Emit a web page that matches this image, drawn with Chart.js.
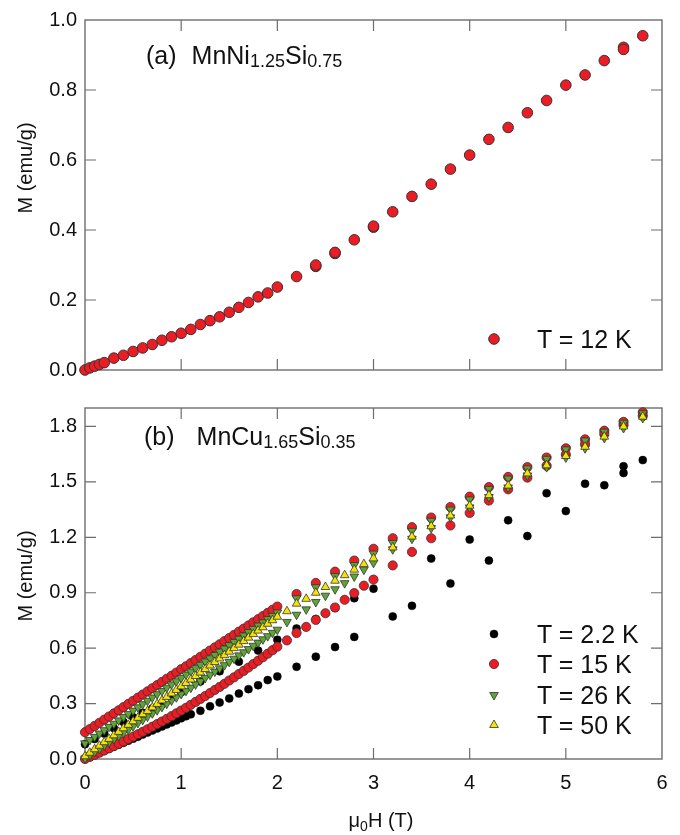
<!DOCTYPE html>
<html>
<head>
<meta charset="utf-8">
<script src="https://cdn.jsdelivr.net/npm/chart.js@4.4.1/dist/chart.umd.min.js"></script>
<style>
  body { margin: 0; background: #fff; font-family: "Liberation Sans", Arial, sans-serif; color: #111; }
  #wrap { position: relative; width: 680px; height: 835px; overflow: hidden; }
  canvas { position: absolute; left: 0; }
  #topChart { top: 0; }
  #botChart { top: 388px; }
  .lbl { position: absolute; white-space: nowrap; }
  .panel { font-size: 25px; line-height: 25px; }
  .panel sub { font-size: 18px; vertical-align: baseline; position: relative; top: 3px; }
  .panel .f { margin-left: 15px; }
  .leg { font-size: 25px; line-height: 25px; left: 537px; }
  .ytitle { font-size: 20px; line-height: 20px; transform: translate(-50%, -50%) rotate(-90deg); }
  .xtitle { font-size: 20px; line-height: 20px; transform: translateX(-50%); }
  .xtitle sub { font-size: 14px; vertical-align: baseline; position: relative; top: 4px; }
</style>
</head>
<body>
<div id="wrap">
  <canvas id="topChart" width="680" height="390"></canvas>
  <canvas id="botChart" width="680" height="447"></canvas>

  <div class="lbl panel" style="left:146px; top:43px;">(a)<span class="f">MnNi<sub>1.25</sub>Si<sub>0.75</sub></span></div>
  <div class="lbl panel" style="left:144px; top:424px;">(b)<span class="f" style="margin-left:22px;">MnCu<sub>1.65</sub>Si<sub>0.35</sub></span></div>

  <div class="lbl leg" style="top:327px;">T = 12 K</div>
  <div class="lbl leg" style="top:622px;">T = 2.2 K</div>
  <div class="lbl leg" style="top:652px;">T = 15 K</div>
  <div class="lbl leg" style="top:683px;">T = 26 K</div>
  <div class="lbl leg" style="top:713px;">T = 50 K</div>

  <div class="lbl ytitle" style="left:25px; top:168px;">M (emu/g)</div>
  <div class="lbl ytitle" style="left:25px; top:576px;">M (emu/g)</div>
  <div class="lbl xtitle" style="left:381px; top:810px;">μ<sub>0</sub>H (T)</div>
</div>

<script>
// ---- AXES ----
const xTicks = [0, 1, 2, 3, 4, 5, 6];
const yTicksTop = [0, 0.2, 0.4, 0.6, 0.8, 1.0];
const yTicksBot = [0, 0.3, 0.6, 0.9, 1.2, 1.5, 1.8];

// ---- PANEL (a): MnNi1.25Si0.75, T = 12 K ----
const hA = [0, 0.05, 0.1, 0.15, 0.2, 0.3, 0.4, 0.5, 0.6, 0.7, 0.8, 0.9, 1.0, 1.1, 1.2, 1.3, 1.4, 1.5, 1.6, 1.7, 1.8, 1.9, 2.0,
            2.2, 2.4, 2.6, 2.8, 3.0, 3.2, 3.4, 3.6, 3.8, 4.0, 4.2, 4.4, 4.6, 4.8, 5.0, 5.2, 5.4, 5.6, 5.8];
const mA = [0, 0.006, 0.011, 0.016, 0.021, 0.034, 0.042, 0.053, 0.063, 0.073, 0.085, 0.095, 0.105, 0.116, 0.130, 0.141, 0.152, 0.165, 0.179, 0.193, 0.209, 0.220, 0.237,
            0.267, 0.300, 0.336, 0.372, 0.411, 0.452, 0.496, 0.531, 0.574, 0.614, 0.659, 0.693, 0.735, 0.770, 0.814, 0.843, 0.884, 0.916, 0.955];
// return sweep, almost on top of the first one
const hAret = [2.4, 2.6, 3.0, 5.6];
const mAret = [0.296, 0.333, 0.408, 0.922];

// ---- PANEL (b): MnCu1.65Si0.35 ----
const hLow = [0, 0.05, 0.1, 0.15, 0.2, 0.25, 0.3, 0.35, 0.4, 0.45, 0.5, 0.55, 0.6, 0.65, 0.7, 0.75, 0.8, 0.85, 0.9, 0.95,
              1.0, 1.05, 1.1, 1.15, 1.2, 1.25, 1.3, 1.35, 1.4, 1.45, 1.5, 1.55, 1.6, 1.65, 1.7, 1.75, 1.8, 1.85, 1.9, 1.95, 2.0];
const hMid = [2.1, 2.2, 2.3, 2.4, 2.5, 2.6, 2.7, 2.8, 2.9, 3.0];
const hHigh = [2.2, 2.4, 2.6, 2.8, 3.0, 3.2, 3.4, 3.6, 3.8, 4.0, 4.2, 4.4, 4.6, 4.8, 5.0, 5.2, 5.4, 5.6, 5.8];
const hHighUp = [3.2, 3.4, 3.6, 3.8, 4.0, 4.2, 4.4, 4.6, 4.8, 5.0, 5.2, 5.4, 5.6, 5.8];

// T = 2.2 K
const h2Down = [0, 0.1, 0.2, 0.3, 0.4, 0.5, 0.6, 0.7, 0.8, 0.9, 1.0, 1.2, 1.4, 1.6, 1.8, 2.0,
                2.2, 2.4, 2.6, 2.8, 3.0, 3.6, 4.0, 4.4, 4.8, 5.2, 5.6, 5.8];
const m2Down = [0.080, 0.108, 0.138, 0.167, 0.200, 0.226, 0.250, 0.274, 0.297, 0.335, 0.361, 0.420, 0.475, 0.527, 0.587, 0.646,
                0.706, 0.758, 0.818, 0.870, 0.922, 1.085, 1.188, 1.292, 1.439, 1.490, 1.585, 1.618];
const h2Up = [0, 0.05, 0.1, 0.15, 0.2, 0.25, 0.3, 0.35, 0.4, 0.45, 0.5, 0.55, 0.6, 0.65, 0.7, 0.75, 0.8, 0.85, 0.9, 0.95, 1.0, 1.05, 1.1,
              1.2, 1.3, 1.4, 1.5, 1.6, 1.7, 1.8, 1.9, 2.0, 2.2, 2.4, 2.6, 2.8, 3.2, 3.4, 3.8, 4.2, 4.6, 5.0, 5.4, 5.6];
const m2Up = [0, 0.011, 0.022, 0.033, 0.044, 0.055, 0.066, 0.077, 0.088, 0.099, 0.110, 0.121, 0.132, 0.143, 0.154, 0.165, 0.176, 0.187, 0.198, 0.209, 0.220, 0.231, 0.242,
              0.261, 0.285, 0.306, 0.328, 0.354, 0.378, 0.399, 0.427, 0.447, 0.499, 0.554, 0.606, 0.661, 0.772, 0.829, 0.950, 1.074, 1.207, 1.342, 1.482, 1.548];

// T = 15 K
const m15Down = [0.145, 0.162, 0.179, 0.196, 0.213, 0.230, 0.247, 0.264, 0.281, 0.298, 0.315, 0.332, 0.349, 0.366, 0.383, 0.400, 0.417, 0.434, 0.451, 0.468,
                 0.486, 0.502, 0.519, 0.536, 0.553, 0.570, 0.587, 0.604, 0.621, 0.638, 0.655, 0.672, 0.689, 0.706, 0.723, 0.740, 0.757, 0.774, 0.791, 0.808, 0.825];
const m15DownHigh = [0.893, 0.953, 1.014, 1.074, 1.138, 1.195, 1.255, 1.307, 1.364, 1.420, 1.472, 1.527, 1.580, 1.632, 1.682, 1.730, 1.777, 1.825, 1.877];
const m15Up = [0, 0.011, 0.022, 0.034, 0.046, 0.058, 0.070, 0.082, 0.095, 0.108, 0.121, 0.134, 0.147, 0.161, 0.175, 0.189, 0.203, 0.217, 0.232, 0.247,
               0.262, 0.277, 0.293, 0.309, 0.325, 0.341, 0.357, 0.374, 0.390, 0.407, 0.425, 0.442, 0.460, 0.477, 0.495, 0.514, 0.532, 0.551, 0.570, 0.589, 0.608];
const m15UpMid = [0.642, 0.682, 0.715, 0.753, 0.789, 0.820, 0.862, 0.898, 0.938, 0.971];
const m15UpHigh = [1.048, 1.121, 1.195, 1.264, 1.332, 1.399, 1.460, 1.523, 1.587, 1.648, 1.705, 1.760, 1.808, 1.857];

// T = 26 K
const m26Down = [0.085, 0.103, 0.120, 0.138, 0.156, 0.174, 0.191, 0.209, 0.227, 0.244, 0.262, 0.280, 0.297, 0.315, 0.333, 0.351, 0.368, 0.386, 0.404, 0.421,
                 0.439, 0.457, 0.474, 0.492, 0.510, 0.528, 0.545, 0.563, 0.581, 0.598, 0.616, 0.634, 0.651, 0.669, 0.687, 0.705, 0.722, 0.740, 0.758, 0.775, 0.793];
const m26DownHigh = [0.870, 0.930, 0.990, 1.050, 1.112, 1.170, 1.235, 1.290, 1.350, 1.405, 1.462, 1.518, 1.573, 1.625, 1.676, 1.724, 1.772, 1.820, 1.872];
const m26Up = [0.003, 0.020, 0.038, 0.055, 0.073, 0.090, 0.108, 0.125, 0.142, 0.160, 0.177, 0.195, 0.212, 0.230, 0.247, 0.264, 0.282, 0.299, 0.317, 0.334,
               0.352, 0.369, 0.386, 0.404, 0.421, 0.439, 0.456, 0.473, 0.491, 0.508, 0.526, 0.543, 0.561, 0.578, 0.595, 0.613, 0.630, 0.648, 0.665, 0.683, 0.700];
const m26UpMid = [0.742, 0.781, 0.810, 0.850, 0.884, 0.919, 0.952, 0.988, 1.025, 1.062];
const m26UpHigh = [1.135, 1.192, 1.250, 1.308, 1.362, 1.418, 1.470, 1.535, 1.580, 1.632, 1.682, 1.738, 1.792, 1.846];

// T = 50 K
const m50Up = [0.015, 0.034, 0.053, 0.072, 0.091, 0.109, 0.128, 0.147, 0.166, 0.185, 0.204, 0.223, 0.242, 0.260, 0.279, 0.298, 0.317, 0.336, 0.355, 0.374,
               0.393, 0.411, 0.430, 0.449, 0.468, 0.487, 0.506, 0.525, 0.544, 0.562, 0.581, 0.600, 0.619, 0.638, 0.657, 0.676, 0.695, 0.713, 0.732, 0.751, 0.770];
const m50UpMid = [0.800, 0.841, 0.867, 0.900, 0.931, 0.965, 0.995, 1.025, 1.055, 1.086];
const m50UpHigh = [1.145, 1.204, 1.260, 1.318, 1.371, 1.428, 1.480, 1.546, 1.590, 1.640, 1.690, 1.745, 1.800, 1.853];

// ---- STYLE ----
const RED = '#ec1c24';
const GREEN = '#5ea534';
const YELLOW = '#f4e400';
const EDGE = '#333333';
const FRAME = '#6d6d6d';
const FONT = '"Liberation Sans", Arial, sans-serif';

function pts(xs, ys) {
  return xs.map((x, i) => ({ x: x, y: ys[i] }));
}

// frame + inward ticks on all four sides, and a hand made legend
function framePlugin(yTicks, legend) {
  return {
    id: 'frame',
    beforeDatasetsDraw(chart) {
      const { ctx, chartArea: a, scales } = chart;
      ctx.save();
      ctx.strokeStyle = FRAME;
      ctx.lineWidth = 1.4;
      ctx.strokeRect(a.left, a.top, a.right - a.left, a.bottom - a.top);
      ctx.lineWidth = 1.2;
      ctx.beginPath();
      xTicks.slice(1, -1).forEach(v => {
        const px = scales.x.getPixelForValue(v);
        ctx.moveTo(px, a.bottom); ctx.lineTo(px, a.bottom - 11);
        ctx.moveTo(px, a.top); ctx.lineTo(px, a.top + 11);
      });
      yTicks.forEach(v => {
        const py = scales.y.getPixelForValue(v);
        if (py <= a.top + 1 || py >= a.bottom - 1) return;
        ctx.moveTo(a.left, py); ctx.lineTo(a.left + 11, py);
        ctx.moveTo(a.right, py); ctx.lineTo(a.right - 11, py);
      });
      ctx.stroke();
      ctx.restore();
    },
    afterDraw(chart) {
      const ctx = chart.ctx;
      legend.forEach(l => {
        ctx.save();
        ctx.fillStyle = l.fill;
        ctx.strokeStyle = l.edge;
        ctx.lineWidth = l.bw;
        Chart.helpers.drawPoint(ctx, { pointStyle: l.style, radius: l.r, rotation: l.rot || 0, borderWidth: l.bw }, l.x, l.y);
        ctx.restore();
      });
    }
  };
}

function axisOpts(yMax, yTicks, showX, xHeight) {
  return {
    x: {
      type: 'linear', min: 0, max: 6,
      grid: { display: false, drawTicks: false },
      border: { display: false },
      afterBuildTicks: s => { s.ticks = xTicks.map(v => ({ value: v })); },
      afterFit: s => { s.height = xHeight; },
      ticks: { display: showX, padding: 12, color: '#111', font: { family: FONT, size: 20 }, callback: v => String(v) }
    },
    y: {
      type: 'linear', min: 0, max: yMax,
      grid: { display: false, drawTicks: false },
      border: { display: false },
      afterBuildTicks: s => { s.ticks = yTicks.map(v => ({ value: v })); },
      afterFit: s => { s.width = 85; },
      ticks: { padding: 8, color: '#111', font: { family: FONT, size: 20 }, callback: v => v.toFixed(1) }
    }
  };
}

function scatterSet(label, data, fill, edge, style, r, bw, rot, order) {
  return {
    label: label, data: data, showLine: false, clip: false, order: order,
    pointStyle: style, pointRadius: r, pointRotation: rot || 0,
    pointBackgroundColor: fill, pointBorderColor: edge, pointBorderWidth: bw,
    pointHoverRadius: r
  };
}

const common = {
  responsive: false,
  animation: false,
  devicePixelRatio: 1,
  plugins: { legend: { display: false }, tooltip: { enabled: false } },
  events: []
};

// ---- TOP CHART ----
new Chart(document.getElementById('topChart'), {
  type: 'scatter',
  data: {
    datasets: [
      scatterSet('T = 12 K', pts(hA, mA), RED, EDGE, 'circle', 5.3, 1, 0, 0),
      scatterSet('T = 12 K (return)', pts(hAret, mAret), RED, EDGE, 'circle', 5.3, 1, 0, 1)
    ]
  },
  options: Object.assign({}, common, {
    layout: { padding: { top: 17, right: 18, bottom: 0, left: 0 } },
    scales: axisOpts(1.0, yTicksTop, false, 7)
  }),
  plugins: [framePlugin(yTicksTop, [
    { style: 'circle', r: 5.3, fill: RED, edge: EDGE, bw: 1, x: 494, y: 339 }
  ])]
});

// ---- BOTTOM CHART ----
const off = 388; // canvas top in page
new Chart(document.getElementById('botChart'), {
  type: 'scatter',
  data: {
    datasets: [
      scatterSet('T = 50 K', pts(hLow, m50Up).concat(pts(hMid, m50UpMid), pts(hHighUp, m50UpHigh)),
                 YELLOW, EDGE, 'triangle', 5, 0.8, 0, 0),
      scatterSet('T = 26 K', pts(hLow, m26Down).concat(pts(hHigh, m26DownHigh), pts(hLow, m26Up), pts(hMid, m26UpMid), pts(hHighUp, m26UpHigh)),
                 GREEN, EDGE, 'triangle', 5, 0.8, 180, 1),
      scatterSet('T = 15 K', pts(hLow, m15Down).concat(pts(hHigh, m15DownHigh), pts(hLow, m15Up), pts(hMid, m15UpMid), pts(hHighUp, m15UpHigh)),
                 RED, EDGE, 'circle', 4.6, 0.8, 0, 2),
      scatterSet('T = 2.2 K', pts(h2Down, m2Down).concat(pts(h2Up, m2Up)),
                 '#000', '#000', 'circle', 4, 0.5, 0, 3)
    ]
  },
  options: Object.assign({}, common, {
    layout: { padding: { top: 5, right: 18, bottom: 0, left: 0 } },
    scales: axisOpts(1.9, yTicksBot, true, 76)
  }),
  plugins: [framePlugin(yTicksBot, [
    { style: 'circle', r: 4, fill: '#000', edge: '#000', bw: 0.5, x: 494, y: 634 - off },
    { style: 'circle', r: 4.6, fill: RED, edge: EDGE, bw: 0.8, x: 494, y: 664 - off },
    { style: 'triangle', r: 5, rot: 180, fill: GREEN, edge: EDGE, bw: 0.8, x: 494, y: 695 - off },
    { style: 'triangle', r: 5, fill: YELLOW, edge: EDGE, bw: 0.8, x: 494, y: 725 - off }
  ])]
});
</script>
</body>
</html>
